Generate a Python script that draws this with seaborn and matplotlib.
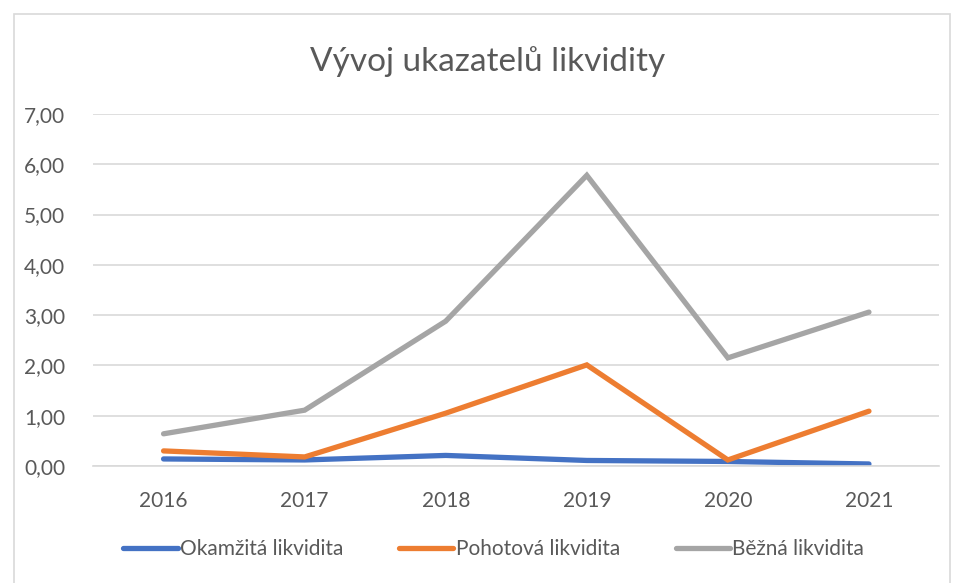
import matplotlib
matplotlib.use("Agg")
import matplotlib.pyplot as plt
import matplotlib.patches as patches
from matplotlib.ticker import FuncFormatter, MultipleLocator
import pandas as pd
import seaborn as sns

years = ["2016", "2017", "2018", "2019", "2020", "2021"]
okamzita = [0.14, 0.12, 0.21, 0.11, 0.09, 0.04]
pohotova = [0.30, 0.18, 1.05, 2.01, 0.12, 1.09]
bezna = [0.64, 1.11, 2.88, 5.78, 2.15, 3.06]
series_names = ["Okamžitá likvidita", "Pohotová likvidita", "Běžná likvidita"]
colors = ["#4472C4", "#ED7D31", "#A5A5A5"]

df = pd.DataFrame({
    "rok": years * 3,
    "hodnota": okamzita + pohotova + bezna,
    "ukazatel": [n for n in series_names for _ in years],
})

sns.set_style("white")
plt.rcParams["font.family"] = ["Lato", "DejaVu Sans"]

fig = plt.figure(figsize=(9.57, 5.83), dpi=100)
ax = fig.add_axes([0.0972, 0.2007, 0.8845, 0.6038])

sns.lineplot(data=df, x="rok", y="hodnota", hue="ukazatel", palette=colors,
             linewidth=3.8, ax=ax, legend=True, sort=False)
for line in ax.get_lines():
    line.set_solid_capstyle("round")
    line.set_solid_joinstyle("miter")

ax.set_xlim(-0.5, 5.5)
ax.set_ylim(0, 7)
ax.yaxis.set_major_locator(MultipleLocator(1))
ax.yaxis.set_major_formatter(FuncFormatter(lambda v, p: f"{v:.2f}".replace(".", ",")))
ax.grid(axis="y", color="#D9D9D9", linewidth=1.2)
ax.set_axisbelow(True)
for s in ["top", "right", "left"]:
    ax.spines[s].set_visible(False)
ax.spines["bottom"].set_color("#D9D9D9")
ax.spines["bottom"].set_linewidth(1.2)
ax.tick_params(axis="both", length=0, labelsize=15, colors="#595959")
ax.tick_params(axis="y", pad=20)
ax.tick_params(axis="x", pad=18)
ax.set_xlabel("")
ax.set_ylabel("")

handles, labels = ax.get_legend_handles_labels()
ax.legend(handles, labels, loc="center", bbox_to_anchor=(0.516, 1 - 549 / 583),
          bbox_transform=fig.transFigure, ncol=3, frameon=False, fontsize=15,
          labelcolor="#595959", handlelength=2.6, handletextpad=0.1,
          columnspacing=2.7)

fig.text(488 / 957, 1 - 62 / 583, "Vývoj ukazatelů likvidity", ha="center",
         va="center", fontsize=24, color="#595959")

border = patches.Rectangle((14 / 957, -0.05), 936 / 957, 1.05 - 14 / 583,
                           transform=fig.transFigure, fill=False,
                           edgecolor="#D9D9D9", linewidth=1.2)
fig.patches.append(border)

fig.savefig("out.png", dpi=100)
